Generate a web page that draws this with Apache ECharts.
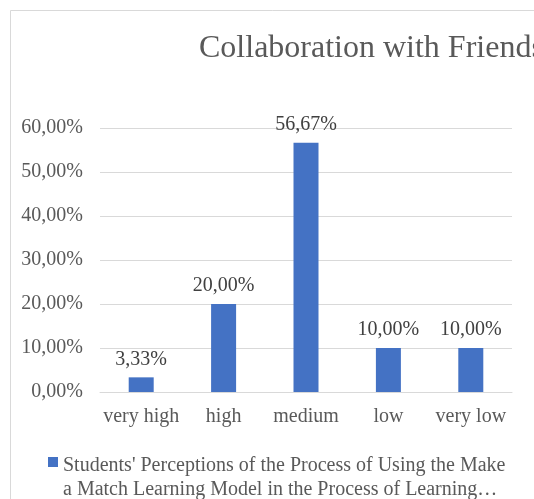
<!DOCTYPE html>
<html>
<head>
<meta charset="utf-8">
<script src="https://cdn.jsdelivr.net/npm/echarts@6/dist/echarts.min.js"></script>
<style>html,body{margin:0;padding:0;background:#fff;}#c{width:534px;height:499px;}</style>
</head>
<body>
<div id="c"></div>
<script>
const titleText = "Collaboration with Friends";
const categories = ["very high", "high", "medium", "low", "very low"];
const values = [3.33, 20.00, 56.67, 10.00, 10.00];
const seriesName = "Students' Perceptions of the Process of Using the Make a Match Learning Model in the Process of Learning";
const legendLines = ["Students' Perceptions of the Process of Using the Make", "a Match Learning Model in the Process of Learning\u2026"];
const yTicks = { min: 0, max: 60, interval: 10 };

const FONT = "Liberation Serif";
const TXT = "#595959";
const fmt = v => v.toFixed(2).replace('.', ',') + '%';

const chart = echarts.init(document.getElementById('c'), null, { renderer: 'canvas' });
chart.setOption({
  animation: false,
  backgroundColor: '#ffffff',
  textStyle: { fontFamily: FONT },
  graphic: [{
    type: 'rect', silent: true,
    shape: { x: 10.5, y: 10.5, width: 800, height: 800 },
    style: { fill: 'none', stroke: '#d9d9d9', lineWidth: 1 }
  }],
  title: {
    text: titleText, left: 199, top: 33, padding: 0,
    textStyle: { fontFamily: FONT, fontSize: 32, fontWeight: 'normal', color: TXT }
  },
  grid: { left: 100, right: 22, top: 128, bottom: 107, containLabel: false },
  xAxis: {
    type: 'category', data: categories,
    axisLine: { show: true, lineStyle: { color: '#d9d9d9', width: 1 } },
    axisTick: { show: false },
    axisLabel: { fontFamily: FONT, fontSize: 20, color: TXT, margin: 15, interval: 0 }
  },
  yAxis: {
    type: 'value', min: yTicks.min, max: yTicks.max, interval: yTicks.interval,
    axisLine: { show: false }, axisTick: { show: false },
    splitLine: { lineStyle: { color: '#d9d9d9', width: 1 } },
    axisLabel: { fontFamily: FONT, fontSize: 20, color: TXT, margin: 17, formatter: fmt }
  },
  legend: {
    left: 48, top: 428, padding: 0,
    icon: 'rect', itemWidth: 10, itemHeight: 10,
    data: [seriesName],
    formatter: () => '{s|\u00a0}\n{t|' + legendLines[0] + '}\n{t|' + legendLines[1] + '}',
    textStyle: {
      fontFamily: FONT, fontSize: 20, color: TXT,
      rich: {
        s: { fontFamily: FONT, fontSize: 20, lineHeight: 31, color: TXT },
        t: { fontFamily: FONT, fontSize: 20, lineHeight: 24, color: TXT }
      }
    }
  },
  series: [{
    type: 'bar', name: seriesName, data: values, barWidth: 25,
    itemStyle: { color: '#4472C4' },
    label: {
      show: true, position: 'top', distance: 8,
      fontFamily: FONT, fontSize: 20, color: '#404040',
      formatter: p => fmt(p.value)
    }
  }]
});
</script>
</body>
</html>
